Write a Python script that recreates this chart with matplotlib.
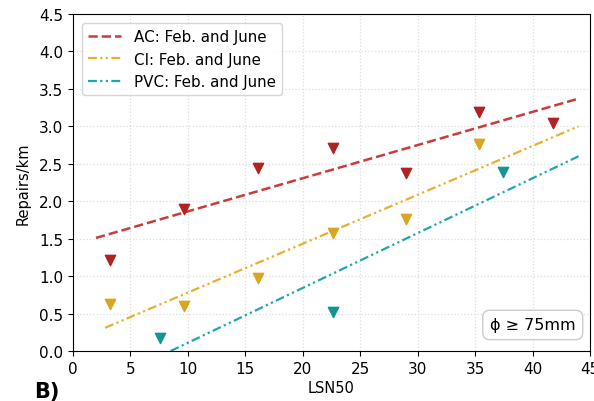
import numpy as np
import matplotlib.pyplot as plt

# LSN50 vs repairs/km, phi >= 75mm
ac_x = [3.2, 9.7, 16.1, 22.6, 29.0, 35.3, 41.8]
ac_y = [1.22, 1.90, 2.44, 2.71, 2.38, 3.19, 3.05]
ci_x = [3.2, 9.7, 16.1, 22.6, 29.0, 35.3]
ci_y = [0.63, 0.60, 0.97, 1.58, 1.76, 2.76]
pvc_x = [7.6, 22.6, 37.4]
pvc_y = [0.17, 0.52, 2.39]

# fitted trend line end points
ac_fit_x = [2.0, 44.0]
ac_fit_y = [1.51, 3.37]
ci_fit_x = [2.8, 44.0]
ci_fit_y = [0.31, 3.00]
pvc_fit_x = [8.5, 44.0]
pvc_fit_y = [0.00, 2.60]

fig = plt.figure(figsize=(5.94, 4.02), dpi=100)
ax = fig.add_axes([0.1229, 0.1244, 0.8704, 0.8383])

ax.plot(ac_fit_x, ac_fit_y, ls="--", color="#c83c3c", lw=1.8, label="AC: Feb. and June")
ax.plot(ci_fit_x, ci_fit_y, ls=(0, (4, 1.5, 1, 1.5, 1, 1.5)), color="#e6b030", lw=1.6,
        label="CI: Feb. and June")
ax.plot(pvc_fit_x, pvc_fit_y, ls=(0, (4, 1.5, 1, 1.5, 1, 1.5)), color="#20a8a8", lw=1.6,
        label="PVC: Feb. and June")

ax.scatter(ac_x, ac_y, marker="v", s=55, color="#b22222", zorder=3)
ax.scatter(ci_x, ci_y, marker="v", s=55, color="#daa520", zorder=3)
ax.scatter(pvc_x, pvc_y, marker="v", s=55, color="#139595", zorder=3)

ax.set_xlim(0, 45)
ax.set_ylim(0, 4.5)
ax.set_xticks(np.arange(0, 46, 5))
ax.set_yticks(np.arange(0, 4.6, 0.5))
ax.grid(True, ls=":", color="#dddddd", lw=0.9)
ax.set_xlabel("LSN50", fontsize=10.5, labelpad=3)
ax.set_ylabel("Repairs/km", fontsize=10.5, labelpad=6)
ax.tick_params(labelsize=11)

ax.legend(loc="upper left", fontsize=10.9, handlelength=2.2, borderaxespad=0.6)
ax.text(0.972, 0.055, "ϕ ≥ 75mm", transform=ax.transAxes, ha="right", va="bottom",
        fontsize=11.5, bbox=dict(boxstyle="round,pad=0.45", fc="white", ec="#cccccc"))

fig.text(0.058, 0.0, "B)", fontsize=15, fontweight="bold", ha="left", va="bottom")

fig.savefig("out.png", dpi=100)
